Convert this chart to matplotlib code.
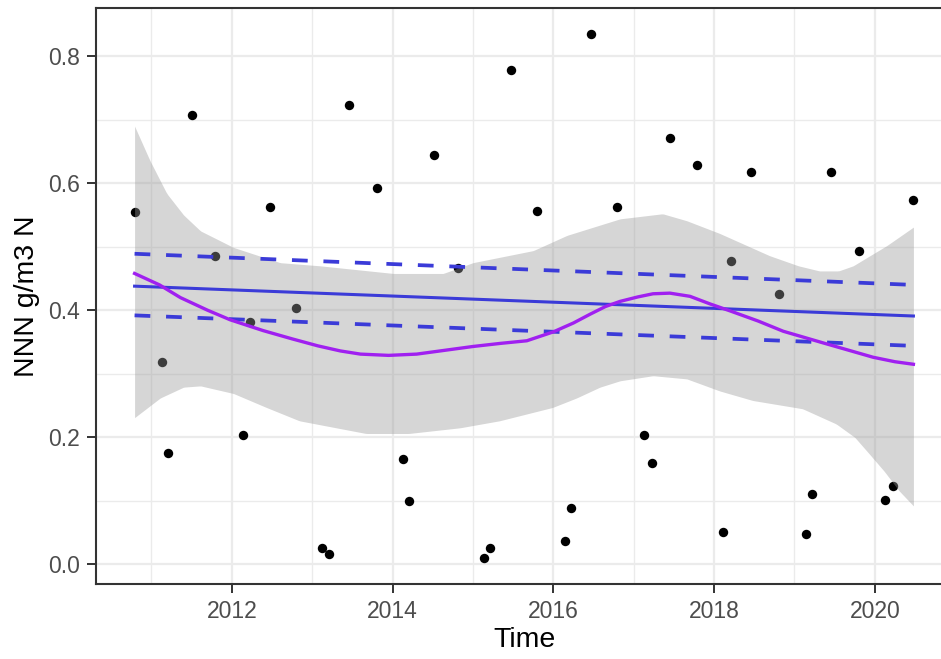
import matplotlib.pyplot as plt
import numpy as np

plt.rcParams['font.family'] = ['Liberation Sans', 'DejaVu Sans']

# sample dates (decimal years) and NNN values
dates = [2010.79, 2011.13, 2011.21, 2011.50, 2011.79, 2012.14, 2012.22, 2012.48,
         2012.80, 2013.12, 2013.21, 2013.46, 2013.81, 2014.13, 2014.21, 2014.52,
         2014.81, 2015.14, 2015.21, 2015.47, 2015.80, 2016.15, 2016.22, 2016.47,
         2016.79, 2017.13, 2017.23, 2017.45, 2017.79, 2018.11, 2018.21, 2018.46,
         2018.81, 2019.14, 2019.22, 2019.46, 2019.80, 2020.13, 2020.23, 2020.48]
values = [0.554, 0.319, 0.176, 0.707, 0.485, 0.204, 0.381, 0.563,
          0.404, 0.026, 0.017, 0.723, 0.593, 0.166, 0.099, 0.644,
          0.466, 0.010, 0.026, 0.778, 0.557, 0.037, 0.089, 0.835,
          0.563, 0.204, 0.160, 0.672, 0.628, 0.051, 0.478, 0.617,
          0.425, 0.048, 0.111, 0.617, 0.494, 0.102, 0.124, 0.573]

# loess smooth and its confidence band
smooth_x = [2010.79, 2011.10, 2011.36, 2011.70, 2011.98, 2012.39, 2012.75, 2013.07,
            2013.35, 2013.60, 2013.95, 2014.30, 2014.65, 2015.00, 2015.35, 2015.67,
            2016.00, 2016.25, 2016.46, 2016.65, 2016.83, 2017.05, 2017.24, 2017.45,
            2017.70, 2017.95, 2018.20, 2018.55, 2018.86, 2019.32, 2019.65, 2019.98,
            2020.25, 2020.48]
smooth_y = [0.458, 0.440, 0.420, 0.400, 0.385, 0.368, 0.355, 0.344,
            0.336, 0.331, 0.329, 0.331, 0.337, 0.343, 0.348, 0.352,
            0.366, 0.380, 0.394, 0.406, 0.414, 0.421, 0.426, 0.427,
            0.422, 0.410, 0.399, 0.383, 0.367, 0.350, 0.338, 0.326,
            0.319, 0.315]

band_hi_x = [2010.79, 2010.98, 2011.19, 2011.40, 2011.61, 2012.02, 2012.60, 2013.10,
             2014.01, 2014.63, 2015.00, 2015.75, 2016.17, 2016.83, 2017.36, 2017.66,
             2018.07, 2018.69, 2019.05, 2019.31, 2019.55, 2019.73, 2020.15, 2020.48]
band_hi = [0.690, 0.636, 0.584, 0.550, 0.525, 0.499, 0.475, 0.470,
           0.458, 0.458, 0.475, 0.494, 0.518, 0.544, 0.552, 0.541,
           0.521, 0.486, 0.470, 0.462, 0.462, 0.470, 0.502, 0.531]
band_lo_x = [2010.79, 2011.11, 2011.40, 2011.61, 2012.02, 2012.43, 2012.84, 2013.67,
             2014.20, 2014.84, 2015.33, 2015.99, 2016.29, 2016.58, 2016.83, 2017.24,
             2017.66, 2018.07, 2018.48, 2019.10, 2019.52, 2019.75, 2019.93, 2020.12,
             2020.30, 2020.48]
band_lo = [0.231, 0.262, 0.279, 0.281, 0.269, 0.247, 0.226, 0.206,
           0.206, 0.215, 0.226, 0.247, 0.262, 0.279, 0.289, 0.297,
           0.292, 0.273, 0.258, 0.245, 0.221, 0.200, 0.174, 0.146,
           0.116, 0.092]

# linear trend with its bounds (ends of the line)
trend_x = [2010.79, 2020.48]
trend = [0.438, 0.391]
trend_hi = [0.489, 0.440]
trend_lo = [0.392, 0.344]

fig = plt.figure(figsize=(9.41, 6.59), dpi=100)
ax = fig.add_axes([96 / 941, 75 / 659, (952 - 96) / 941, (584 - 8) / 659])

ax.scatter(dates, values, s=46, color='black', zorder=3, linewidths=0)

grid_x = np.linspace(2010.79, 2020.48, 400)
hi = np.interp(grid_x, band_hi_x, band_hi)
lo = np.interp(grid_x, band_lo_x, band_lo)
ax.fill_between(grid_x, lo, hi, color='#999999', alpha=0.4, linewidth=0, zorder=4)

blue = '#3b3bd8'
ax.plot(trend_x, trend, color=blue, lw=2.2, zorder=5)
ax.plot(trend_x, trend_hi, color=blue, lw=2.7, dashes=(4.2, 4.2), zorder=5)
ax.plot(trend_x, trend_lo, color=blue, lw=2.7, dashes=(4.2, 4.2), zorder=5)
ax.plot(smooth_x, smooth_y, color='#a020f0', lw=2.4, zorder=6,
        solid_joinstyle='round')

ax.set_xlim(2010.31, 2020.96)
ax.set_ylim(-0.031, 0.876)
ax.set_xticks([2012, 2014, 2016, 2018, 2020])
ax.set_xticks([2011, 2013, 2015, 2017, 2019], minor=True)
ax.set_yticks([0.0, 0.2, 0.4, 0.6, 0.8])
ax.set_yticks([0.1, 0.3, 0.5, 0.7], minor=True)
ax.set_yticklabels(['0.0', '0.2', '0.4', '0.6', '0.8'])
ax.grid(which='major', color='#ebebeb', lw=1.6, zorder=0)
ax.grid(which='minor', color='#ebebeb', lw=1.0, zorder=0)
ax.set_axisbelow(True)

for s in ax.spines.values():
    s.set_color('#333333')
    s.set_linewidth(1.5)
ax.spines['right'].set_visible(False)
ax.tick_params(which='major', length=6.5, width=1.4, color='#333333',
               labelsize=16.5, labelcolor='#4d4d4d', pad=5)
ax.tick_params(which='minor', length=0)

ax.set_xlabel('Time', fontsize=20.5, labelpad=3)
ax.set_ylabel('NNN g/m3 N', fontsize=20.5, labelpad=6)

fig.savefig('out.png', dpi=100)
